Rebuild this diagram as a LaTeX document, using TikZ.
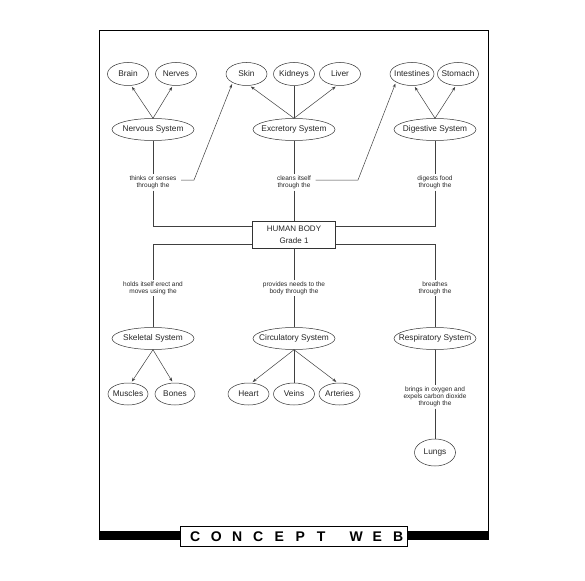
\documentclass[tikz,border=0pt]{standalone}
\usepackage{fontspec}
\setmainfont{Liberation Sans}
\usetikzlibrary{shapes.geometric,arrows.meta}
\newcommand\zb[1]{\makebox[0pt]{#1}}
\newcommand\cwletter[1]{\makebox[21pt]{#1}}
\begin{document}
\begin{tikzpicture}[x=1pt,y=-1pt,
  ell/.style={draw=black!80, line width=0.5pt, ellipse, inner sep=0pt, minimum width=41pt, minimum height=23pt, text=black!85, font=\fontsize{8.3}{9}\selectfont},
  sys/.style={ell, minimum width=82pt, minimum height=22pt},
  lab/.style={inner sep=1.5pt, align=center, text=black!85, font=\fontsize{6.5}{7}\selectfont},
  conn/.style={draw=black!75, line width=0.5pt},
  arr/.style={conn, -{Stealth[length=4pt,width=3pt]}, shorten >=1.5pt},
  hub/.style={draw=black!80, line width=0.5pt, rectangle, minimum width=83pt, minimum height=27pt, align=center, inner sep=0pt, text=black!85, font=\fontsize{8}{12}\selectfont}
]
\useasboundingbox[fill=white] (0,0) rectangle (585,580);
% frame
\draw[line width=0.8pt] (99.5,540) -- (99.5,30.5) -- (488.5,30.5) -- (488.5,540);
\fill[black] (99,531) rectangle (489,540);
\node[draw=black, line width=1pt, fill=white, minimum width=227pt, minimum height=20pt, inner sep=0pt] (cwbox) at (293.5,536) {};
\node[inner sep=0pt, font=\fontsize{14}{14}\bfseries] (cwtext) at (296.7,536.5) {\cwletter{C}\cwletter{O}\cwletter{N}\cwletter{C}\cwletter{E}\cwletter{P}\cwletter{T}\hspace{14pt}\cwletter{W}\cwletter{E}\cwletter{B}};

% top row
\node[ell] (brain) at (128,74) {\zb{Brain}};
\node[ell] (nerves) at (176,74) {\zb{Nerves}};
\node[ell] (skin) at (246.5,74) {\zb{Skin}};
\node[ell] (kidneys) at (294,74) {\zb{Kidneys}};
\node[ell] (liver) at (340,74) {\zb{Liver}};
\node[ell, minimum width=44pt] (intest) at (412,74) {\zb{Intestines}};
\node[ell] (stomach) at (458,74) {\zb{Stomach}};

\node[sys] (ns) at (153,129.5) {\zb{Nervous System}};
\node[sys] (es) at (294,129.5) {\zb{Excretory System}};
\node[sys] (ds) at (435,129.5) {\zb{Digestive System}};

\node[lab] (l1) at (153,182.5) {thinks or senses\\through the};
\node[lab] (l2) at (294,182.5) {cleans itself\\through the};
\node[lab] (l3) at (435,182.5) {digests food\\through the};

\node[hub] (body) at (294,234.5) {HUMAN BODY\\Grade 1};

\node[lab] (l4) at (153,288) {holds itself erect and\\moves using the};
\node[lab] (l5) at (294,288) {provides needs to the\\body through the};
\node[lab] (l6) at (435,288) {breathes\\through the};

\node[sys] (sk) at (153,338.5) {\zb{Skeletal System}};
\node[sys] (cs) at (294,338.5) {\zb{Circulatory System}};
\node[sys] (rs) at (435,338.5) {\zb{Respiratory System}};

\node[ell, minimum width=40pt, minimum height=22pt] (muscles) at (128,394) {\zb{Muscles}};
\node[ell, minimum width=40pt, minimum height=22pt] (bones) at (175,394) {\zb{Bones}};
\node[ell, minimum width=41pt, minimum height=22pt] (heart) at (248.5,394) {\zb{Heart}};
\node[ell, minimum width=41pt, minimum height=22pt] (veins) at (294,394) {\zb{Veins}};
\node[ell, minimum width=41pt, minimum height=22pt] (arteries) at (339.5,394) {\zb{Arteries}};

\node[lab] (l7) at (435,397) {brings in oxygen and\\expels carbon dioxide\\through the};
\node[ell, minimum width=41pt, minimum height=27pt] (lungs) at (435,452.5) {\zb{Lungs}};

% coordinates
\coordinate (ul) at (153,226);
\coordinate (ur) at (435,226);
\coordinate (ll) at (153,244);
\coordinate (lr) at (435,244);
\coordinate (k1) at (194,180);
\coordinate (k2) at (358,180);

% arrows up
\draw[arr] (ns.north) -- (brain.285);
\draw[arr] (ns.north) -- (nerves.255);
\draw[arr] (es.north) -- (skin.285);
\draw[conn] (es.north) -- (kidneys.south);
\draw[arr] (es.north) -- (liver.255);
\draw[arr] (ds.north) -- (intest.280);
\draw[arr] (ds.north) -- (stomach.260);

% spine
\draw[conn] (ns) -- (l1);
\draw[conn] (l1) -- (ul) -- (body.west |- ul);
\draw[conn] (es) -- (l2);
\draw[conn] (l2) -- (body);
\draw[conn] (ds) -- (l3);
\draw[conn] (l3) -- (ur) -- (body.east |- ur);

\draw[conn] (body.west |- ll) -- (ll) -- (l4);
\draw[conn] (l4) -- (sk);
\draw[conn] (body) -- (l5);
\draw[conn] (l5) -- (cs);
\draw[conn] (body.east |- lr) -- (lr) -- (l6);
\draw[conn] (l6) -- (rs);
\draw[conn] (rs) -- (l7);
\draw[conn] (l7) -- (lungs);

% cross links
\draw[arr, shorten <=3pt] (l1.east |- k1) -- (k1) -- (skin.212);
\draw[arr, shorten <=3pt] (l2.east |- k2) -- (k2) -- (intest.207);

% arrows down
\draw[arr] (sk.south) -- (muscles.75);
\draw[arr] (sk.south) -- (bones.100);
\draw[arr] (cs.south) -- (heart.75);
\draw[conn] (cs.south) -- (veins.north);
\draw[arr] (cs.south) -- (arteries.100);
\end{tikzpicture}
\end{document}
